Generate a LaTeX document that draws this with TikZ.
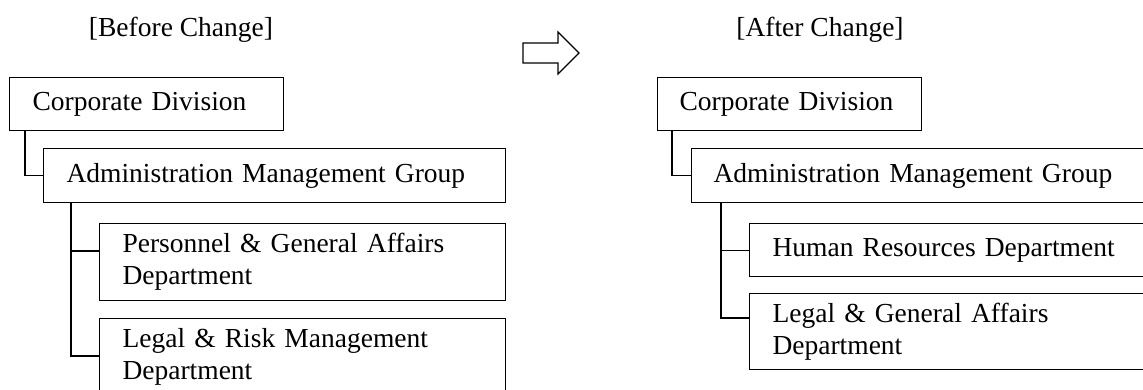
\documentclass[tikz,border=0pt]{standalone}
\usepackage{fontspec}
\setmainfont{Liberation Serif}
\begin{document}
\begin{tikzpicture}[x=1pt,y=-1pt,
  box/.style={draw=black, line width=1.1pt, rectangle, anchor=north west, align=left,
    inner xsep=23pt, inner ysep=0pt, font=\fontsize{27.5}{32}\selectfont},
  title/.style={font=\fontsize{27.5}{32}\selectfont},
  link/.style={draw=black, line width=1.1pt}]
\useasboundingbox (0,0) rectangle (1143,389);
% titles
\node[title] (tb) at (181,30) {[Before Change]};
\node[title] (ta) at (820,30) {[After Change]};
% arrow
\draw[line width=1.1pt, line join=miter] (523,43) -- (558,43) -- (558,32) -- (579,53) -- (558,74) -- (558,63) -- (523,63) -- cycle;
% left
\node[box, minimum width=274pt, minimum height=53pt, text width=228pt] (lcorp) at (9,77) {Corporate Division};
\node[box, minimum width=462pt, minimum height=54pt, text width=416pt] (ladmin) at (43,148) {Administration Management Group};
\node[box, minimum width=406pt, minimum height=77pt, text width=360pt] (lpers) at (99,223) {Personnel \& General Affairs\\Department};
\node[box, minimum width=406pt, minimum height=77pt, text width=360pt] (llegal) at (99,318) {Legal \& Risk Management\\Department};
\draw[link] ([xshift=16pt]lcorp.south west) |- (ladmin.west);
\draw[link] ([xshift=28pt]ladmin.south west) |- ([yshift=-28pt]lpers.north west);
\draw[link] ([xshift=28pt]ladmin.south west) |- ([yshift=-38pt]llegal.north west);
% right
\node[box, minimum width=264pt, minimum height=53pt, text width=220pt, inner xsep=22pt] (rcorp) at (657,77) {Corporate Division};
\node[box, minimum width=480pt, minimum height=54pt, text width=436pt, inner xsep=22pt] (radmin) at (691,148) {Administration Management Group};
\node[box, minimum width=420pt, minimum height=53pt, text width=374pt] (rhr) at (749,223) {Human Resources Department};
\node[box, minimum width=420pt, minimum height=76pt, text width=374pt] (rlegal) at (749,293) {Legal \& General Affairs\\Department};
\draw[link] ([xshift=15pt]rcorp.south west) |- (radmin.west);
\draw[link] ([xshift=30pt]radmin.south west) |- (rhr.west);
\draw[link] ([xshift=30pt]radmin.south west) |- ([yshift=-25pt]rlegal.north west);
\end{tikzpicture}
\end{document}
